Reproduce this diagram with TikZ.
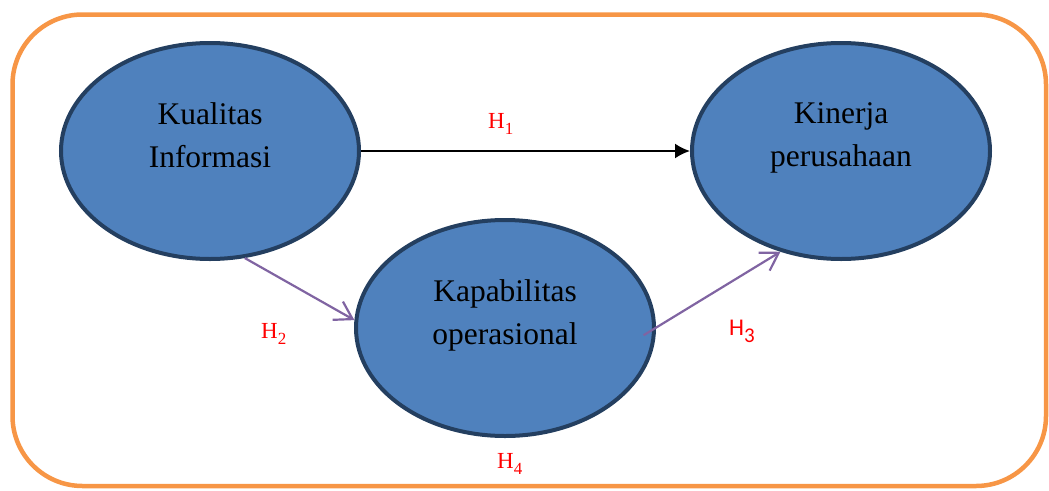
\documentclass[tikz,border=0pt]{standalone}
\usepackage{fontspec}
\setmainfont{Liberation Serif}
\newfontfamily\calib{Carlito}
\usetikzlibrary{shapes.geometric,arrows.meta,calc}
\definecolor{orangeb}{HTML}{F79646}
\definecolor{ellfill}{HTML}{4F81BD}
\definecolor{elldraw}{HTML}{243F60}
\definecolor{purp}{HTML}{8064A2}
\newcommand{\hsub}[1]{\raisebox{-6pt}{\fontsize{17}{17}\selectfont #1}}
\begin{document}
\begin{tikzpicture}[x=1pt,y=-1pt,
  ell/.style={ellipse, draw=elldraw, fill=ellfill, line width=4pt,
    minimum width=298pt, minimum height=216pt, inner sep=0pt},
  txt/.style={font=\fontsize{31.5}{43}\selectfont, align=center, inner sep=0pt},
  hlab/.style={text=red, font=\fontsize{23}{23}\selectfont, inner sep=0pt, anchor=base west},
  parrow/.style={purp, line width=2.2pt, -{Straight Barb[length=17pt,width=21pt,line width=2.2pt]}}
]
\useasboundingbox (0,0) rectangle (1049,490);
\draw[orangeb, line width=4.5pt, rounded corners=70pt] (12.5,14.5) rectangle (1046,486);

\node[ell] (kual) at (210,151) {};
\node[ell] (kin) at (841,151) {};
\node[ell] (kap) at (505,328) {};

\node[txt, anchor=base] (kualtxt) at (210,167) {Kualitas\\Informasi};
\node[txt, anchor=base] (kintxt) at (841,166) {Kinerja\\perusahaan};
\node[txt, anchor=base] (kaptxt) at (505,344) {Kapabilitas\\operasional};

\draw[line width=2pt, -{Latex[length=15pt,width=15pt]}] (kual.east) -- (kin.west);
\draw[parrow] (kual.-72) -- (kap.177);
\draw[parrow] ($(kap.center)!0.92!(kap.-3)$) -- (kin.-121);

\node[hlab] (h1) at (488,128) {H\hsub{1}};
\node[hlab] (h2) at (261,338) {H\hsub{2}};
\node[hlab, font=\calib\fontsize{24}{24}\selectfont] (h3) at (729,335) {H\raisebox{-7pt}{\fontsize{21}{21}\selectfont 3}};
\node[hlab] (h4) at (497,468) {H\hsub{4}};
\end{tikzpicture}
\end{document}
